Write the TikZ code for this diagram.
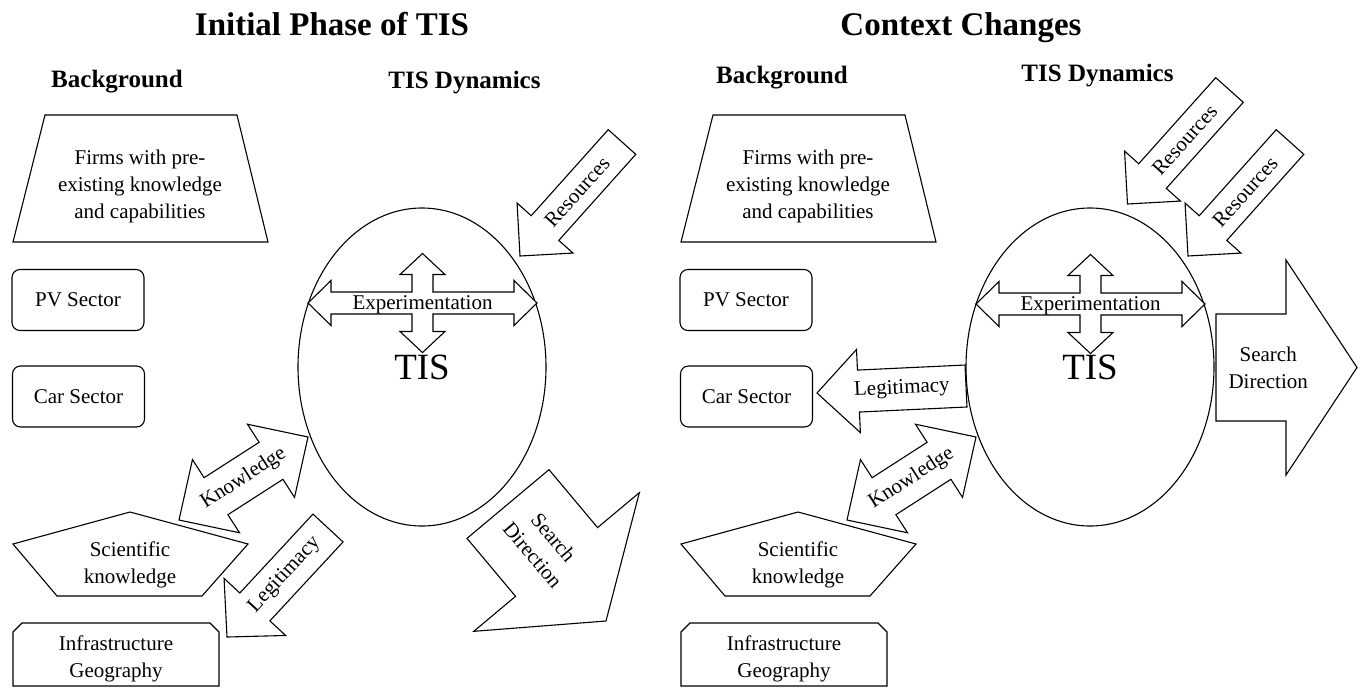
\documentclass[tikz,border=0pt]{standalone}
\usepackage{fontspec}
\setmainfont{Liberation Serif}
\usetikzlibrary{calc,shapes.geometric}

\tikzset{
  outline/.style={draw=black, line width=1.1pt, fill=white, line join=miter},
  bodytext/.style={font=\fontsize{21}{27}\selectfont, align=center, inner sep=0pt},
  headtext/.style={font=\fontsize{25}{30}\selectfont\bfseries, anchor=base, inner sep=0pt},
  titletext/.style={font=\fontsize{33}{38}\selectfont\bfseries, anchor=base, inner sep=0pt},
  sectorbox/.style={outline, rounded corners=8pt, minimum width=132pt, minimum height=61pt, bodytext},
  tisshape/.style={draw=black, line width=1.1pt, ellipse, minimum width=248pt, minimum height=318pt,
    inner sep=0pt, font=\fontsize{37}{40}\selectfont},
}

% block arrow: name, tail, tip, half shaft width, half head width, head length, label pos, label
\newcommand\sarrowpath[8]{%
  \coordinate (#1-tail) at #2;
  \coordinate (#1-tip) at #3;
  \coordinate (#1-neck) at ($(#1-tip)!#6pt!(#1-tail)$);
  \draw[outline] ($(#1-tail)!#4pt!90:(#1-tip)$) -- ($(#1-neck)!#4pt!90:(#1-tip)$)
     -- ($(#1-neck)!#5pt!90:(#1-tip)$) -- (#1-tip)
     -- ($(#1-neck)!#5pt!-90:(#1-tip)$) -- ($(#1-neck)!#4pt!-90:(#1-tip)$)
     -- ($(#1-tail)!#4pt!-90:(#1-tip)$) -- cycle;
  \path (#1-tail) -- (#1-tip) node[bodytext, sloped, pos=#7] (#1-label) {#8};
}

% two-headed block arrow: name, end a, end b, half shaft, half head, head length, label pos, label
\newcommand\darrowpath[8]{%
  \coordinate (#1-a) at #2;
  \coordinate (#1-b) at #3;
  \coordinate (#1-na) at ($(#1-a)!#6pt!(#1-b)$);
  \coordinate (#1-nb) at ($(#1-b)!#6pt!(#1-a)$);
  \draw[outline] (#1-a) -- ($(#1-na)!#5pt!90:(#1-b)$) -- ($(#1-na)!#4pt!90:(#1-b)$)
    -- ($(#1-nb)!#4pt!90:(#1-b)$) -- ($(#1-nb)!#5pt!90:(#1-b)$) -- (#1-b)
    -- ($(#1-nb)!#5pt!-90:(#1-b)$) -- ($(#1-nb)!#4pt!-90:(#1-b)$)
    -- ($(#1-na)!#4pt!-90:(#1-b)$) -- ($(#1-na)!#5pt!-90:(#1-b)$) -- cycle;
  \path (#1-a) -- (#1-b) node[bodytext, sloped, pos=#7] (#1-label) {#8};
}

% four-way experimentation arrow around a centre
\newcommand\crossarrow[2]{%
  \begin{scope}[shift={#2}]
    \draw[outline] (-114.5,0) -- (-91.5,-22.5) -- (-91.5,-11) -- (-10.5,-11) -- (-10.5,-28.5)
      -- (-22.5,-28.5) -- (0,-49.5) -- (22.5,-28.5) -- (10.5,-28.5) -- (10.5,-11) -- (91.5,-11)
      -- (91.5,-22.5) -- (114.5,0) -- (91.5,22.5) -- (91.5,11) -- (10.5,11) -- (10.5,28.5)
      -- (22.5,28.5) -- (0,49.5) -- (-22.5,28.5) -- (-10.5,28.5) -- (-10.5,11) -- (-91.5,11)
      -- (-91.5,22.5) -- cycle;
  \end{scope}
  \node[bodytext] (#1-label) at ($#2+(0,2)$) {Experimentation};
}

\begin{document}
\begin{tikzpicture}[x=1pt, y=-1pt]
\useasboundingbox (0,0) rectangle (1363,689);

% ---------------- initial phase ----------------
\node[titletext] (titleL) at (332,35) {Initial Phase of TIS};
\node[headtext] (bgL) at (117,87) {Background};
\node[headtext] (dynL) at (464.5,88) {TIS Dynamics};

\draw[outline] (45,115) -- (237,115) -- (268,242) -- (13,242) -- cycle;
\node[bodytext] (firmsL) at (140,186) {Firms with pre-\\existing knowledge\\and capabilities};

\node[sectorbox] (pvL) at (78,300) {PV Sector};
\node[sectorbox] (carL) at (78.5,396.5) {Car Sector};

\draw[outline] (130,512) -- (248,544) -- (202,596) -- (57,596) -- (13,544) -- cycle;
\node[bodytext] (sciL) at (130,565) {Scientific\\knowledge};

\draw[outline] (13,632) -- (22,623) -- (210,623) -- (219,632) -- (219,686) -- (13,686) -- cycle;
\node[bodytext] (infL) at (116,659) {Infrastructure\\Geography};

\node[tisshape] (tisL) at (422,367) {TIS};
\crossarrow{expL}{(422.5,303)}

\sarrowpath{resL}{(622,142)}{(520,256)}{18.5}{37.5}{37.5}{0.44}{Resources}
\darrowpath{knowL}{(179,520)}{(308,437)}{22}{43.5}{44}{0.5}{Knowledge}
\sarrowpath{legL}{(328,528)}{(227,637)}{20.5}{42}{41}{0.43}{Legitimacy}
\sarrowpath{seaL}{(508,504)}{(606,621)}{53.5}{108}{77}{0.36}{Search\\Direction}

% ---------------- context changes ----------------
\node[titletext] (titleR) at (961,35) {Context Changes};
\node[headtext] (bgR) at (782,83) {Background};
\node[headtext] (dynR) at (1097.5,81) {TIS Dynamics};

\draw[outline] (713,115) -- (905,115) -- (936,242) -- (681,242) -- cycle;
\node[bodytext] (firmsR) at (808,186) {Firms with pre-\\existing knowledge\\and capabilities};

\node[sectorbox] (pvR) at (746,300) {PV Sector};
\node[sectorbox] (carR) at (746.5,396.5) {Car Sector};

\draw[outline] (798,512) -- (916,544) -- (870,596) -- (725,596) -- (681,544) -- cycle;
\node[bodytext] (sciR) at (798,565) {Scientific\\knowledge};

\draw[outline] (681,632) -- (690,623) -- (878,623) -- (887,632) -- (887,686) -- (681,686) -- cycle;
\node[bodytext] (infR) at (784,659) {Infrastructure\\Geography};

\node[tisshape] (tisR) at (1090,367) {TIS};
\crossarrow{expR}{(1090.5,304)}

\sarrowpath{resRa}{(1229.5,90)}{(1127.5,204)}{18.5}{37.5}{37.5}{0.44}{Resources}
\sarrowpath{resRb}{(1290,142)}{(1188,256)}{18.5}{37.5}{37.5}{0.44}{Resources}
\sarrowpath{legR}{(966,386)}{(817,393)}{21}{41.6}{41.5}{0.43}{Legitimacy}
\darrowpath{knowR}{(847,520)}{(976,437)}{22}{43.5}{44}{0.5}{Knowledge}
\sarrowpath{seaR}{(1216,367.5)}{(1357,367.5)}{53.5}{107.5}{71}{0.37}{Search\\Direction}

\end{tikzpicture}
\end{document}
